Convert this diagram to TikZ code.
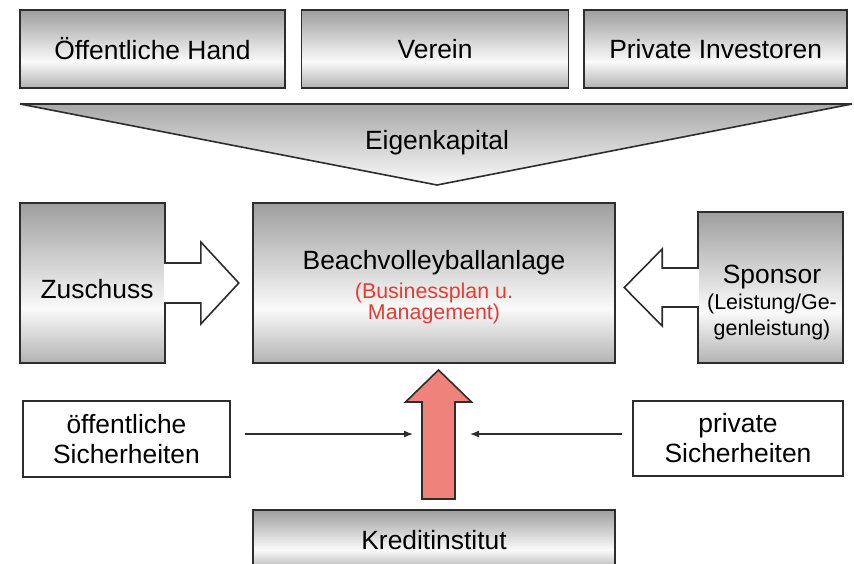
\documentclass[tikz,border=0pt]{standalone}
\usepackage{fontspec}
\setmainfont{Liberation Sans}
\usetikzlibrary{positioning,calc,arrows.meta}

\definecolor{rahmen}{RGB}{45,45,45}
\definecolor{rot}{RGB}{226,62,52}
\definecolor{pfeilrot}{RGB}{240,130,124}

\pgfdeclareverticalshading{kastengrau}{100bp}{color(0bp)=(black!30); color(25bp)=(black!30); color(42bp)=(black!2); color(75bp)=(black!38); color(100bp)=(black!38)}

\newcommand{\gross}{\fontsize{13.2}{15}\selectfont}
\newcommand{\klein}{\fontsize{10.7}{12}\selectfont}

\tikzset{
	kasten/.style={draw=rahmen, line width=0.8pt, shade, shading=kastengrau, inner sep=0pt, align=center, font=\gross},
	weiss/.style={draw=rahmen, line width=0.6pt, fill=white, inner sep=0pt, align=center, font=\gross},
	blockpfeil/.style={draw=rahmen, line width=0.8pt, fill=white, line join=miter},
	pfeil/.style={draw=rahmen, line width=0.6pt, -{Latex[length=4.5pt,width=3.5pt]}},
}

\begin{document}
\begin{tikzpicture}[x=0.5pt, y=-0.5pt]
		\useasboundingbox (0,0) rectangle (854,563);
		
		% Eigenkapital
		\node[kasten, minimum width=132.5pt, minimum height=39pt] (oeffentlich) at (152.5,49) {Öffentliche Hand};
		\node[kasten, minimum width=133.5pt, minimum height=39pt, right=7.5pt of oeffentlich] (verein) {Verein};
		\node[kasten, minimum width=131.5pt, minimum height=39pt, right=7pt of verein] (privat) {Private Investoren};
		
		\draw[draw=rahmen, line width=0.8pt, top color=black!34, bottom color=black!2, line join=miter] (20,104) -- (852,104) -- (437,185) -- cycle;
		\node[font=\gross] (eigen) at (437,143) {Eigenkapital};
		
		% Anlage
		\node[kasten, minimum width=181pt, minimum height=80pt] (anlage) at (434,283) {};
		\node[font=\gross, align=center] (anlagetext) at (434,287) {Beachvolleyballanlage\\[-0.5pt]
			\klein\textcolor{rot}{(Businessplan u.}\\[-4.5pt]
			\klein\textcolor{rot}{Management)}};
		
		\node[kasten, minimum width=72.5pt, minimum height=80pt] (zuschuss) at (92.5,283) {};
		\node[font=\gross] (zuschusstext) at (97,289) {Zuschuss};
		
		\node[kasten, minimum width=72.5pt, minimum height=75.5pt] (sponsor) at (770.5,287.5) {};
		\node[font=\gross, align=center] (sponsortext) at (772,302) {Sponsor\\[-2pt]
			\klein(Leistung/Ge-\\[-2pt]
			\klein genleistung)};
		
		% Zuschuss und Sponsor
		\draw[blockpfeil] ($(zuschuss.east)+(0,-20)$) -- ++(35,0) -- ++(0,-21) -- ++(38,41) -- ++(-38,41) -- ++(0,-21) -- ++(-35,0);
		\fill[white] ($(zuschuss.east)+(-1.5,-19)$) rectangle ++(3,38);
		
		\draw[blockpfeil] ($(sponsor.west)+(0,-19.5)$) -- ++(-35,0) -- ++(0,-19) -- ++(-38,38.5) -- ++(38,38.5) -- ++(0,-19) -- ++(35,0);
		\fill[white] ($(sponsor.west)+(-1.5,-18.5)$) rectangle ++(3,37);
		
		% Kredit
		\node[kasten, minimum width=181pt, minimum height=30pt] (kredit) at (434,540) {Kreditinstitut};
		
		\coordinate (kp) at (438.5,499);
		\draw[draw=rahmen, line width=0.8pt, fill=pfeilrot, line join=miter] (kp) ++(-16.5,0) -- ++(33,0) -- ++(0,-97) -- ++(16.5,0) -- ++(-33,-32) -- ++(-33,32) -- ++(16.5,0) -- cycle;
		
		\node[weiss, minimum width=103.5pt, minimum height=38pt] (oesich) at (126.5,439) {öffentliche\\Sicherheiten};
		\node[weiss, minimum width=105pt, minimum height=37.5pt] (prsich) at (738,438.5) {private\\Sicherheiten};
		
		\coordinate (la) at (245,434);
		\coordinate (le) at (413,434);
		\coordinate (ra) at (622,434);
		\coordinate (re) at (470,434);
		\draw[pfeil] (la) -- (le);
		\draw[pfeil] (ra) -- (re);
\end{tikzpicture}
\end{document}
